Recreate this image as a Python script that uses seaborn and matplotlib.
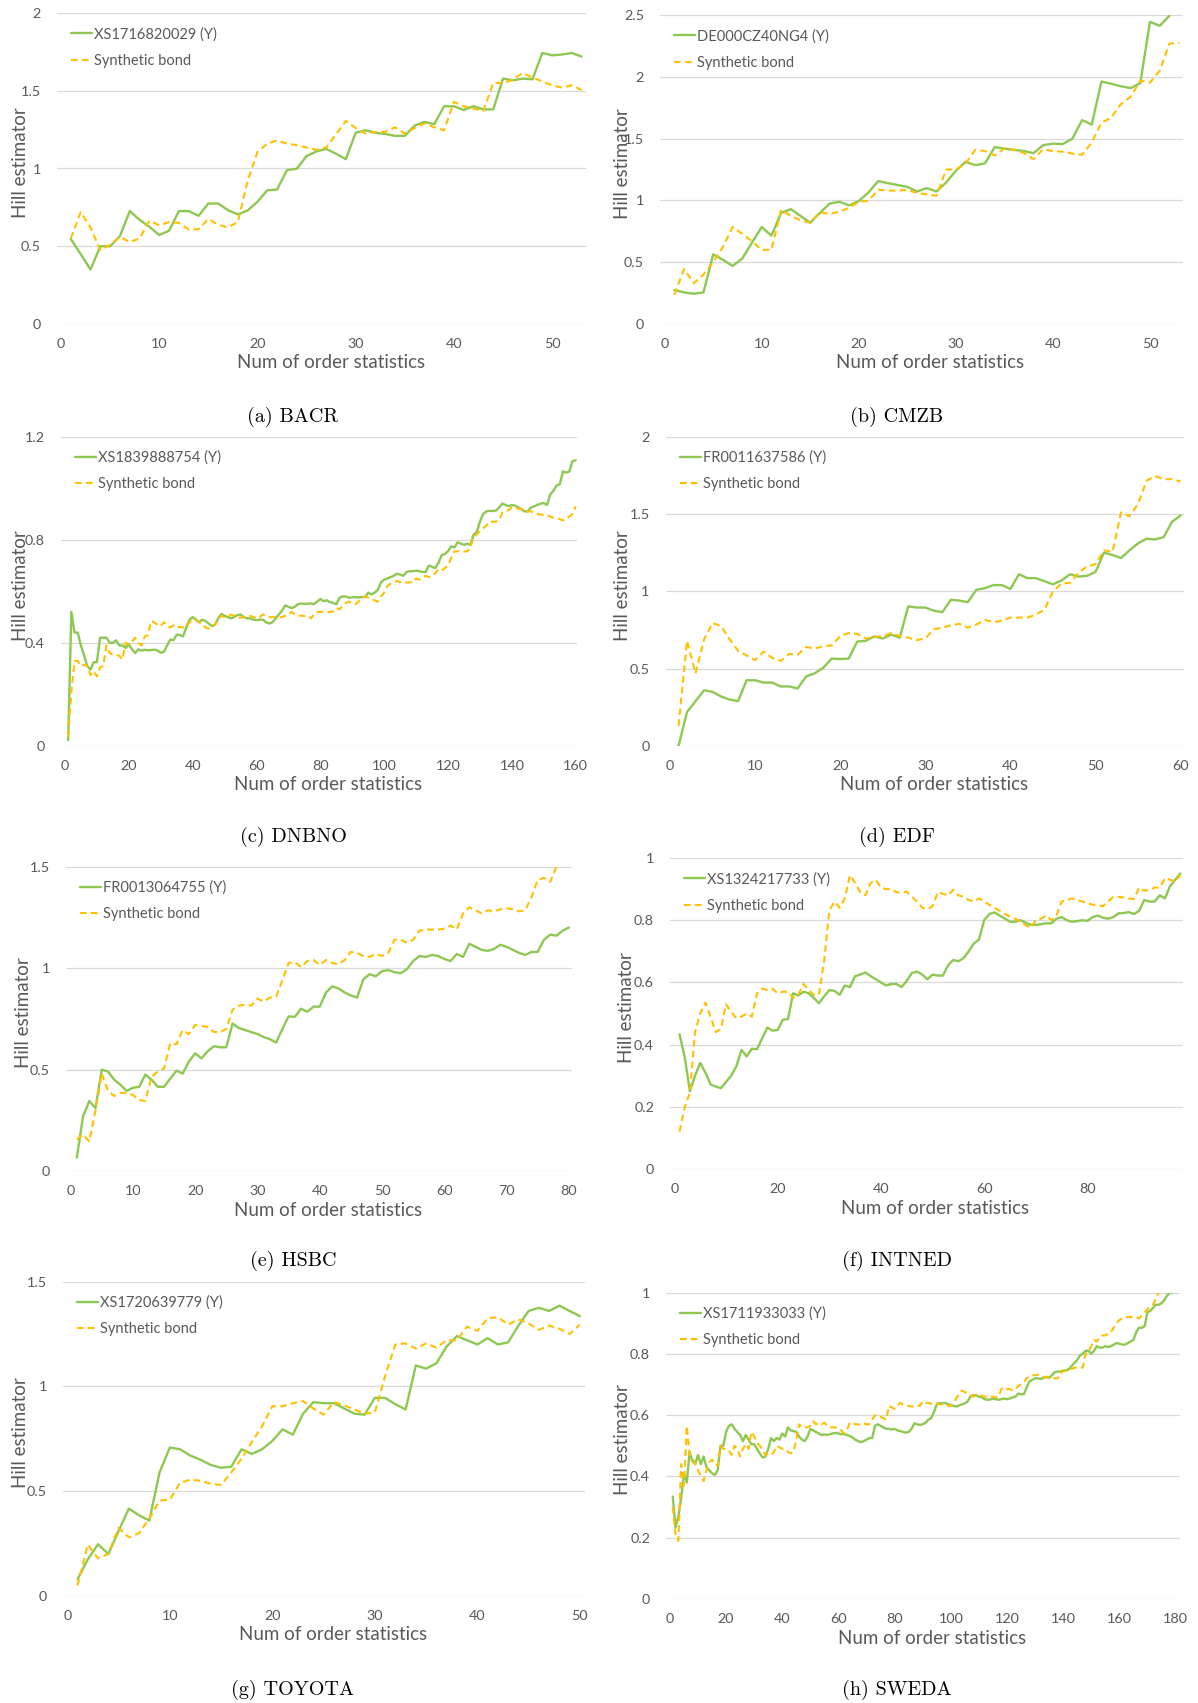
import numpy as np
import pandas as pd
import matplotlib
matplotlib.use("Agg")
import matplotlib.pyplot as plt
import seaborn as sns
from matplotlib.ticker import FuncFormatter, MultipleLocator

# ---------------- data ----------------
bacr_bond = [0.546,0.45,0.35,0.50,0.50,0.565,0.726,0.67,0.625,0.572,
             0.60,0.726,0.726,0.696,0.775,0.775,0.732,0.705,0.73,0.786,
             0.86,0.865,0.99,0.998,1.08,1.11,1.126,1.095,1.06,1.23,
             1.246,1.23,1.222,1.21,1.21,1.276,1.30,1.285,1.40,1.40,
             1.377,1.40,1.38,1.38,1.578,1.567,1.578,1.574,1.743,1.728,
             1.733,1.743,1.72]
bacr_syn = [0.55,0.72,0.62,0.475,0.51,0.56,0.527,0.55,0.664,0.635,
            0.655,0.65,0.608,0.61,0.675,0.638,0.622,0.655,0.92,1.107,
            1.16,1.18,1.16,1.15,1.135,1.12,1.135,1.22,1.306,1.26,
            1.225,1.235,1.235,1.265,1.225,1.26,1.29,1.265,1.245,1.428,
            1.40,1.385,1.37,1.55,1.55,1.57,1.614,1.585,1.56,1.535,
            1.52,1.535,1.505]

cmzb_bond = [0.275,0.256,0.245,0.256,0.564,0.52,0.47,0.53,0.66,0.785,
             0.715,0.90,0.93,0.875,0.82,0.90,0.975,0.99,0.96,0.995,
             1.065,1.157,1.14,1.125,1.11,1.073,1.10,1.073,1.146,1.24,
             1.313,1.286,1.30,1.432,1.42,1.41,1.40,1.383,1.448,1.46,
             1.456,1.50,1.65,1.615,1.963,1.945,1.925,1.91,1.95,2.446,
             2.414,2.495]
cmzb_syn = [0.237,0.445,0.33,0.40,0.50,0.623,0.785,0.73,0.67,0.60,
            0.60,0.925,0.875,0.84,0.82,0.905,0.89,0.91,0.94,0.99,
            0.998,1.087,1.08,1.08,1.085,1.06,1.05,1.038,1.25,1.25,
            1.30,1.41,1.40,1.365,1.42,1.41,1.385,1.335,1.415,1.40,
            1.395,1.38,1.37,1.47,1.63,1.67,1.78,1.84,1.97,1.955,
            2.05,2.27,2.275]

dnbno_bond = [0.023,0.52,0.44,0.44,0.39,0.35,0.31,0.296,0.325,0.325,
              0.42,0.42,0.42,0.40,0.40,0.41,0.39,0.39,0.38,0.395,
              0.375,0.36,0.375,0.37,0.373,0.371,0.372,0.374,0.37,0.362,
              0.365,0.39,0.413,0.41,0.432,0.43,0.425,0.46,0.49,0.50,
              0.49,0.48,0.49,0.485,0.475,0.465,0.47,0.495,0.512,0.505,
              0.50,0.495,0.50,0.508,0.51,0.50,0.495,0.495,0.49,0.488,
              0.49,0.49,0.48,0.475,0.48,0.495,0.51,0.525,0.545,0.54,
              0.535,0.54,0.55,0.553,0.551,0.552,0.553,0.55,0.56,0.57,
              0.562,0.565,0.558,0.555,0.55,0.575,0.58,0.58,0.575,0.577,
              0.577,0.576,0.578,0.577,0.595,0.588,0.595,0.605,0.635,0.645,
              0.65,0.655,0.66,0.668,0.665,0.66,0.675,0.678,0.678,0.68,
              0.678,0.675,0.675,0.70,0.695,0.69,0.71,0.74,0.745,0.755,
              0.775,0.77,0.79,0.785,0.78,0.785,0.78,0.82,0.83,0.87,
              0.90,0.91,0.912,0.911,0.913,0.925,0.94,0.935,0.93,0.935,
              0.932,0.925,0.918,0.91,0.91,0.925,0.93,0.935,0.94,0.942,
              0.935,0.975,0.99,1.01,1.015,1.065,1.06,1.065,1.105,1.108]
dnbno_syn = [0.036,0.21,0.33,0.33,0.31,0.315,0.31,0.275,0.29,0.27,
             0.305,0.31,0.39,0.36,0.355,0.355,0.35,0.335,0.40,0.395,
             0.405,0.42,0.40,0.39,0.425,0.43,0.485,0.48,0.47,0.465,
             0.48,0.465,0.46,0.468,0.458,0.462,0.46,0.46,0.48,0.49,
             0.49,0.48,0.475,0.46,0.455,0.465,0.47,0.49,0.505,0.50,
             0.50,0.51,0.505,0.50,0.498,0.50,0.502,0.505,0.50,0.495,
             0.50,0.51,0.505,0.50,0.50,0.501,0.499,0.50,0.505,0.51,
             0.52,0.51,0.505,0.506,0.504,0.505,0.495,0.51,0.52,0.52,
             0.521,0.519,0.52,0.522,0.535,0.53,0.545,0.555,0.56,0.555,
             0.55,0.56,0.575,0.58,0.575,0.57,0.565,0.56,0.58,0.595,
             0.62,0.63,0.635,0.64,0.635,0.636,0.634,0.635,0.635,0.65,
             0.645,0.655,0.66,0.655,0.66,0.67,0.685,0.68,0.69,0.70,
             0.73,0.755,0.755,0.756,0.754,0.755,0.77,0.81,0.82,0.835,
             0.845,0.855,0.87,0.87,0.87,0.875,0.905,0.91,0.915,0.925,
             0.925,0.92,0.92,0.915,0.91,0.91,0.905,0.90,0.898,0.895,
             0.895,0.89,0.885,0.883,0.88,0.875,0.88,0.89,0.90,0.93]

edf_bond = [0.0,0.22,0.29,0.36,0.35,0.32,0.30,0.29,0.425,0.425,
            0.41,0.41,0.385,0.385,0.372,0.45,0.47,0.505,0.565,0.562,
            0.565,0.675,0.68,0.708,0.695,0.72,0.70,0.903,0.895,0.895,
            0.875,0.865,0.945,0.94,0.93,1.01,1.02,1.04,1.04,1.015,
            1.11,1.085,1.085,1.065,1.045,1.07,1.11,1.095,1.10,1.125,
            1.25,1.235,1.215,1.265,1.31,1.34,1.335,1.35,1.45,1.49]
edf_syn = [0.13,0.68,0.47,0.69,0.795,0.775,0.69,0.615,0.585,0.555,
           0.61,0.57,0.55,0.595,0.59,0.64,0.63,0.645,0.65,0.71,
           0.73,0.725,0.695,0.705,0.71,0.73,0.71,0.70,0.685,0.695,
           0.755,0.765,0.78,0.79,0.765,0.785,0.815,0.80,0.81,0.83,
           0.83,0.83,0.85,0.88,1.00,1.05,1.055,1.12,1.16,1.175,
           1.265,1.255,1.51,1.485,1.565,1.715,1.745,1.725,1.725,1.71]

hsbc_bond = [0.066,0.27,0.345,0.31,0.50,0.49,0.45,0.425,0.395,0.41,
             0.415,0.475,0.45,0.415,0.415,0.455,0.495,0.48,0.54,0.58,
             0.555,0.59,0.615,0.61,0.61,0.727,0.705,0.695,0.685,0.675,
             0.66,0.65,0.633,0.70,0.762,0.76,0.80,0.785,0.81,0.81,
             0.88,0.91,0.90,0.88,0.865,0.855,0.945,0.97,0.96,0.985,
             0.99,0.98,0.975,0.995,1.035,1.06,1.055,1.065,1.06,1.045,
             1.035,1.07,1.055,1.12,1.105,1.09,1.085,1.095,1.115,1.105,
             1.09,1.075,1.065,1.08,1.08,1.14,1.165,1.16,1.185,1.20]
hsbc_syn = [0.155,0.18,0.145,0.30,0.48,0.395,0.37,0.385,0.385,0.375,
            0.35,0.345,0.465,0.49,0.505,0.63,0.625,0.695,0.675,0.72,
            0.715,0.71,0.685,0.685,0.70,0.795,0.815,0.82,0.815,0.85,
            0.835,0.855,0.86,0.94,1.025,1.03,1.005,1.035,1.04,1.015,
            1.04,1.025,1.02,1.04,1.08,1.075,1.06,1.055,1.07,1.06,
            1.075,1.14,1.14,1.125,1.14,1.185,1.19,1.19,1.19,1.195,
            1.21,1.19,1.27,1.30,1.285,1.27,1.285,1.28,1.29,1.295,
            1.29,1.28,1.285,1.35,1.435,1.445,1.425,1.50]

intned_bond = [0.433,0.36,0.25,0.30,0.341,0.31,0.272,0.265,0.26,0.28,
               0.30,0.33,0.383,0.362,0.387,0.385,0.42,0.455,0.445,0.447,
               0.48,0.482,0.565,0.558,0.57,0.565,0.55,0.533,0.555,0.575,
               0.573,0.56,0.59,0.585,0.62,0.625,0.632,0.62,0.61,0.60,
               0.59,0.595,0.595,0.585,0.605,0.63,0.635,0.625,0.61,0.625,
               0.622,0.622,0.655,0.672,0.668,0.678,0.70,0.725,0.738,0.80,
               0.82,0.825,0.815,0.805,0.795,0.795,0.80,0.792,0.785,0.785,
               0.787,0.79,0.79,0.805,0.81,0.80,0.795,0.797,0.80,0.798,
               0.81,0.815,0.808,0.805,0.81,0.822,0.823,0.826,0.82,0.83,
               0.865,0.86,0.86,0.88,0.87,0.91,0.93,0.95]
intned_syn = [0.12,0.20,0.245,0.44,0.50,0.535,0.49,0.44,0.45,0.53,
              0.505,0.485,0.49,0.50,0.49,0.565,0.58,0.575,0.58,0.565,
              0.57,0.57,0.55,0.56,0.595,0.575,0.56,0.56,0.67,0.83,
              0.86,0.84,0.87,0.945,0.92,0.89,0.88,0.92,0.93,0.905,
              0.90,0.90,0.89,0.888,0.892,0.875,0.86,0.84,0.835,0.845,
              0.89,0.885,0.88,0.898,0.88,0.875,0.865,0.86,0.87,0.86,
              0.85,0.84,0.83,0.82,0.812,0.805,0.795,0.785,0.775,0.80,
              0.805,0.815,0.80,0.815,0.86,0.865,0.87,0.865,0.86,0.855,
              0.85,0.848,0.845,0.86,0.875,0.875,0.873,0.87,0.868,0.905,
              0.895,0.897,0.905,0.905,0.935,0.93,0.925,0.945]

toyota_bond = [0.08,0.175,0.247,0.20,0.31,0.417,0.385,0.36,0.59,0.708,
               0.70,0.67,0.65,0.625,0.612,0.617,0.70,0.678,0.70,0.74,
               0.795,0.77,0.87,0.925,0.92,0.92,0.895,0.87,0.865,0.945,
               0.945,0.915,0.89,1.10,1.085,1.11,1.19,1.24,1.22,1.20,
               1.23,1.20,1.21,1.29,1.36,1.375,1.36,1.385,1.36,1.335]
toyota_syn = [0.05,0.245,0.18,0.20,0.325,0.28,0.30,0.37,0.455,0.46,
              0.54,0.555,0.55,0.535,0.53,0.59,0.655,0.735,0.81,0.905,
              0.905,0.92,0.93,0.895,0.865,0.925,0.91,0.89,0.87,0.875,
              1.05,1.20,1.205,1.18,1.205,1.185,1.22,1.22,1.285,1.265,
              1.325,1.33,1.295,1.32,1.30,1.27,1.29,1.275,1.25,1.295]

sweda_bond = [0.334,0.233,0.27,0.33,0.41,0.38,0.48,0.45,0.44,0.47,
              0.44,0.465,0.43,0.42,0.41,0.405,0.42,0.50,0.50,0.545,
              0.565,0.57,0.555,0.545,0.535,0.515,0.535,0.52,0.505,0.505,
              0.49,0.475,0.462,0.465,0.49,0.525,0.515,0.525,0.52,0.54,
              0.53,0.56,0.55,0.548,0.545,0.53,0.52,0.515,0.53,0.555,
              0.55,0.545,0.54,0.535,0.537,0.535,0.538,0.54,0.542,0.54,
              0.538,0.538,0.535,0.532,0.527,0.52,0.515,0.512,0.515,0.52,
              0.525,0.525,0.565,0.57,0.565,0.56,0.555,0.555,0.553,0.555,
              0.55,0.548,0.545,0.543,0.545,0.555,0.573,0.57,0.568,0.57,
              0.575,0.585,0.59,0.61,0.635,0.64,0.638,0.64,0.635,0.633,
              0.63,0.628,0.632,0.635,0.638,0.645,0.66,0.665,0.665,0.66,
              0.658,0.652,0.65,0.651,0.653,0.652,0.65,0.652,0.654,0.652,
              0.654,0.658,0.66,0.67,0.668,0.668,0.69,0.71,0.715,0.72,
              0.72,0.718,0.722,0.725,0.722,0.73,0.74,0.742,0.742,0.745,
              0.745,0.75,0.76,0.77,0.78,0.795,0.80,0.81,0.81,0.80,
              0.81,0.825,0.82,0.82,0.825,0.822,0.825,0.83,0.835,0.833,
              0.83,0.83,0.835,0.84,0.845,0.87,0.885,0.885,0.89,0.935,
              0.94,0.95,0.96,0.96,0.965,0.975,0.99,1.0,1.0]
sweda_syn = [0.30,0.21,0.19,0.44,0.37,0.565,0.47,0.46,0.44,0.42,
             0.40,0.385,0.42,0.445,0.455,0.44,0.435,0.50,0.49,0.49,
             0.485,0.47,0.50,0.49,0.465,0.49,0.505,0.49,0.545,0.53,
             0.51,0.50,0.485,0.47,0.475,0.47,0.48,0.50,0.495,0.49,
             0.49,0.48,0.475,0.48,0.52,0.57,0.56,0.56,0.56,0.565,
             0.58,0.57,0.575,0.57,0.575,0.565,0.56,0.56,0.56,0.555,
             0.55,0.54,0.55,0.575,0.575,0.57,0.57,0.568,0.572,0.57,
             0.57,0.585,0.60,0.595,0.595,0.59,0.585,0.63,0.625,0.62,
             0.63,0.64,0.635,0.632,0.63,0.628,0.628,0.632,0.63,0.645,
             0.64,0.64,0.637,0.637,0.638,0.635,0.635,0.633,0.63,0.63,
             0.64,0.655,0.67,0.68,0.675,0.67,0.665,0.66,0.665,0.665,
             0.663,0.66,0.66,0.66,0.66,0.658,0.66,0.685,0.69,0.685,
             0.685,0.68,0.685,0.695,0.70,0.705,0.72,0.725,0.73,0.73,
             0.732,0.73,0.725,0.722,0.725,0.722,0.72,0.72,0.73,0.745,
             0.745,0.748,0.75,0.755,0.755,0.755,0.755,0.80,0.805,0.825,
             0.845,0.84,0.855,0.86,0.86,0.865,0.87,0.885,0.90,0.91,
             0.915,0.92,0.92,0.92,0.92,0.92,0.915,0.925,0.935,0.945,
             0.955,0.96,0.98,1.0]

bond_labels = ["XS1716820029 (Y)", "DE000CZ40NG4 (Y)", "XS1839888754 (Y)",
               "FR0011637586 (Y)", "FR0013064755 (Y)", "XS1324217733 (Y)",
               "XS1720639779 (Y)", "XS1711933033 (Y)"]
captions = ["(a) BACR", "(b) CMZB", "(c) DNBNO", "(d) EDF",
            "(e) HSBC", "(f) INTNED", "(g) TOYOTA", "(h) SWEDA"]
synthetic_label = "Synthetic bond"
x_title = "Num of order statistics"
y_title = "Hill estimator"

# ---------------- style ----------------
sns.set_theme(style="white")
plt.rcParams["font.family"] = ["Lato", "DejaVu Sans"]

W, H = 1198, 1703
fig = plt.figure(figsize=(W / 100, H / 100), dpi=100)
GREEN = "#8DC852"
GOLD = "#FFC000"
TXT = "#595959"
GRID = "#D9D9D9"

# layout: pixel rect (L, R, T, B), xlim, ylim, y step, x step, y-title x (px)
panels = [
    (bacr_bond, bacr_syn, (56.7, 586.5, 13, 324), (-0.44, 53.5), (0, 2), 0.5, 10, 20.5),
    (cmzb_bond, cmzb_syn, (660, 1183, 15.2, 324), (-0.48, 53.4), (0, 2.5), 0.5, 10, 623),
    (dnbno_bond, dnbno_syn, (60.5, 577, 436.6, 746), (-1.4, 160.4), (0, 1.2), 0.4, 20, 20.5),
    (edf_bond, edf_syn, (665.5, 1184, 436.6, 746), (-0.53, 60.4), (0, 2), 0.5, 10, 623),
    (hsbc_bond, hsbc_syn, (66, 572, 866.7, 1171), (-0.74, 80.5), (0, 1.5), 0.5, 10, 23.5),
    (intned_bond, intned_syn, (670, 1183, 858, 1169), (-0.85, 98.5), (0, 1.0), 0.2, 20, 626),
    (toyota_bond, toyota_syn, (63, 585, 1281.6, 1596), (-0.42, 50.5), (0, 1.5), 0.5, 10, 20.5),
    (sweda_bond, sweda_syn, (666, 1180, 1292.5, 1599), (-1.4, 181.6), (0, 1.0), 0.2, 20, 623),
]
caption_pos = [(293, 417), (897, 417), (293, 837), (897, 837),
               (293, 1261), (897, 1261), (293, 1690), (897, 1690)]

fmt = FuncFormatter(lambda v, p: "{:g}".format(round(v, 6)))

for i, (bond, syn, rect, xl, yl, ystep, xstep, ytx) in enumerate(panels):
    L, R, T, B = rect
    w, h = R - L, B - T
    ax = fig.add_axes([L / W, 1 - B / H, w / W, h / H])
    dfb = pd.DataFrame({"k": np.arange(1, len(bond) + 1), "v": bond})
    dfs = pd.DataFrame({"k": np.arange(1, len(syn) + 1), "v": syn})
    sns.lineplot(data=dfb, x="k", y="v", ax=ax, color=GREEN, linewidth=1.7,
                 label=bond_labels[i], legend=False)
    sns.lineplot(data=dfs, x="k", y="v", ax=ax, color=GOLD, linewidth=1.5,
                 linestyle=(0, (3.2, 2.0)), label=synthetic_label, legend=False)
    ax.xaxis.set_major_locator(MultipleLocator(xstep))
    ax.set_xlim(*xl)
    ax.set_xticks([t for t in np.arange(0, xl[1] + 1e-9, xstep)])
    ax.set_yticks([t for t in np.arange(yl[0], yl[1] + 1e-9, ystep)])
    ax.xaxis.set_major_formatter(fmt)
    ax.yaxis.set_major_formatter(fmt)
    ax.set_xlim(*xl)
    ax.set_ylim(*yl)
    for s in ax.spines.values():
        s.set_visible(False)
    ax.yaxis.grid(True, color=GRID, linewidth=0.9)
    ax.xaxis.grid(False)
    ax.set_axisbelow(True)
    ax.tick_params(axis="both", length=0, labelsize=10.4, labelcolor=TXT)
    ax.tick_params(axis="y", pad=11.5)
    ax.tick_params(axis="x", pad=9.8)
    ax.set_xlabel("")
    ax.set_ylabel("")
    ax.text(0.5 + 9 / w, -39 / h, x_title, transform=ax.transAxes,
            ha="center", va="center", fontsize=13.5, color=TXT)
    ax.text((ytx - L) / w, 0.5 + 6 / h, y_title, transform=ax.transAxes,
            rotation=90, ha="center", va="center", fontsize=13.5, color=TXT)
    leg = ax.legend(loc="upper left", bbox_to_anchor=(14 / w, 1 - 14 / h),
                    frameon=False, fontsize=10.5, handlelength=1.45,
                    handletextpad=0.15, labelspacing=0.85, borderpad=0,
                    borderaxespad=0)
    for t in leg.get_texts():
        t.set_color(TXT)
    cx, cy = caption_pos[i]
    fig.text(cx / W, 1 - cy / H, captions[i], ha="center", va="center",
             fontsize=14.5, family="cmr10", color="black")

fig.savefig("out.png", dpi=100, facecolor="white")
